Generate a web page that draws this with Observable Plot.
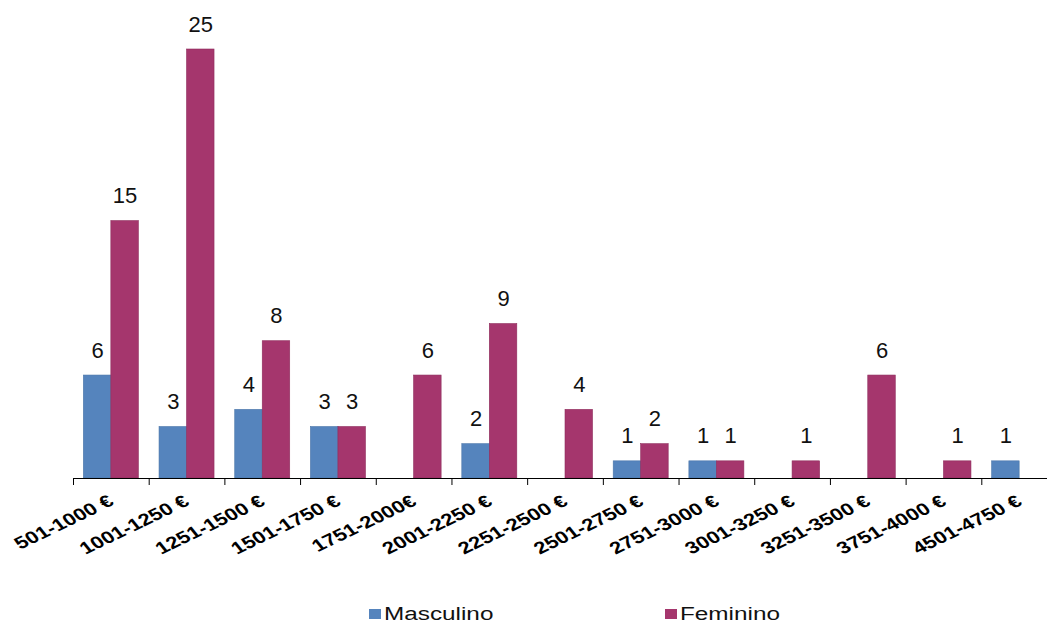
<!DOCTYPE html>
<html>
<head>
<meta charset="utf-8">
<script src="https://cdn.jsdelivr.net/npm/d3@7"></script>
<script src="https://cdn.jsdelivr.net/npm/@observablehq/plot@0.6"></script>
<style>
  html, body { margin: 0; padding: 0; background: #fff; }
  body { width: 1047px; height: 624px; position: relative; overflow: hidden; font-family: "Liberation Sans", Arial, sans-serif; }
  #chart { position: absolute; left: 0; top: 0; }
  .legend { position: absolute; top: 602px; left: 0; width: 1047px; height: 24px; }
  .item { position: absolute; top: 0; display: flex; align-items: center; height: 24px; }
  .swatch { width: 12px; height: 10px; margin-right: 3px; }
  .label { font-size: 18px; color: #111; display: inline-block; transform: scaleX(1.35); transform-origin: left center; }
</style>
</head>
<body>
<div id="chart"></div>
<div class="legend">
  <div class="item" style="left:369px"><span class="swatch" style="background:#5584bd"></span><span class="label">Masculino</span></div>
  <div class="item" style="left:665px"><span class="swatch" style="background:#a5366d"></span><span class="label">Feminino</span></div>
</div>
<script>
// Salary brackets (monthly, euros)
const categories = [
  "501-1000 €", "1001-1250 €", "1251-1500 €", "1501-1750 €", "1751-2000€",
  "2001-2250 €", "2251-2500 €", "2501-2750 €", "2751-3000 €", "3001-3250 €",
  "3251-3500 €", "3751-4000 €", "4501-4750 €"
];
// Number of people per bracket, by sex (null = no bar)
const masculino = [6, 3, 4, 3, null, 2, null, 1, 1, null, null, null, 1];
const feminino  = [15, 25, 8, 3, 6, 9, 4, 2, 1, 1, 6, 1, null];

const blue = "#5584bd";
const maroon = "#a5366d";

const rows = (values) => categories
  .map((cat, i) => ({cat, v: values[i]}))
  .filter(d => d.v != null);
const mRows = rows(masculino);
const fRows = rows(feminino);

// Band geometry: each bracket is one band; the two bars sit side by side in it
const band = (1057 - 73) / categories.length;
const barW = 27.5;
const gap = (band - 2 * barW) / 2;

const chart = Plot.plot({
  width: 1047,
  height: 570,
  marginTop: 49,
  marginBottom: 92,
  marginLeft: 73,
  marginRight: 0,
  style: {fontFamily: "Liberation Sans, Arial, sans-serif", color: "#000", background: "transparent"},
  x: {domain: categories, range: [73, 1057], padding: 0, round: false, label: null},
  y: {domain: [0, 25], axis: null},
  marks: [
    Plot.barY(mRows, {x: "cat", y: "v", fill: blue, stroke: "#4a75a8", strokeWidth: 0.6,
      insetLeft: gap, insetRight: band - gap - barW}),
    Plot.barY(fRows, {x: "cat", y: "v", fill: maroon, stroke: "#8e2c5c", strokeWidth: 0.6,
      insetLeft: gap + barW, insetRight: gap}),
    Plot.text(mRows, {x: "cat", y: "v", text: d => String(d.v), dx: -barW / 2, dy: -18,
      lineAnchor: "bottom", fontSize: 22, fill: "#111"}),
    Plot.text(fRows, {x: "cat", y: "v", text: d => String(d.v), dx: barW / 2, dy: -18,
      lineAnchor: "bottom", fontSize: 22, fill: "#111"}),
    Plot.ruleY([0], {stroke: "#000", strokeWidth: 1.2}),
    // tick marks at band boundaries
    Plot.axisX({tickSize: 7, tickFormat: () => "", dx: -band / 2, stroke: "#000", label: null}),
    // slanted bracket labels
    Plot.axisX({tickSize: 0, tickPadding: 21, tickRotate: -32, dx: 0, fontSize: 17,
      fontWeight: "bold", fill: "#000", label: null, ariaLabel: "bracket-labels"})
  ]
});

// Widen the slanted bracket labels horizontally (wide-set lettering)
d3.select(chart).selectAll("text").each(function () {
  const t = this.getAttribute("transform") || "";
  const m = t.match(/translate\(([-\d.e]+),\s*([-\d.e]+)\)\s*rotate\((-?[\d.]+)\)/);
  if (m) this.setAttribute("transform", `translate(${m[1]},${m[2]}) scale(1.3,1) rotate(${m[3]})`);
});

document.getElementById("chart").appendChild(chart);
</script>
</body>
</html>
